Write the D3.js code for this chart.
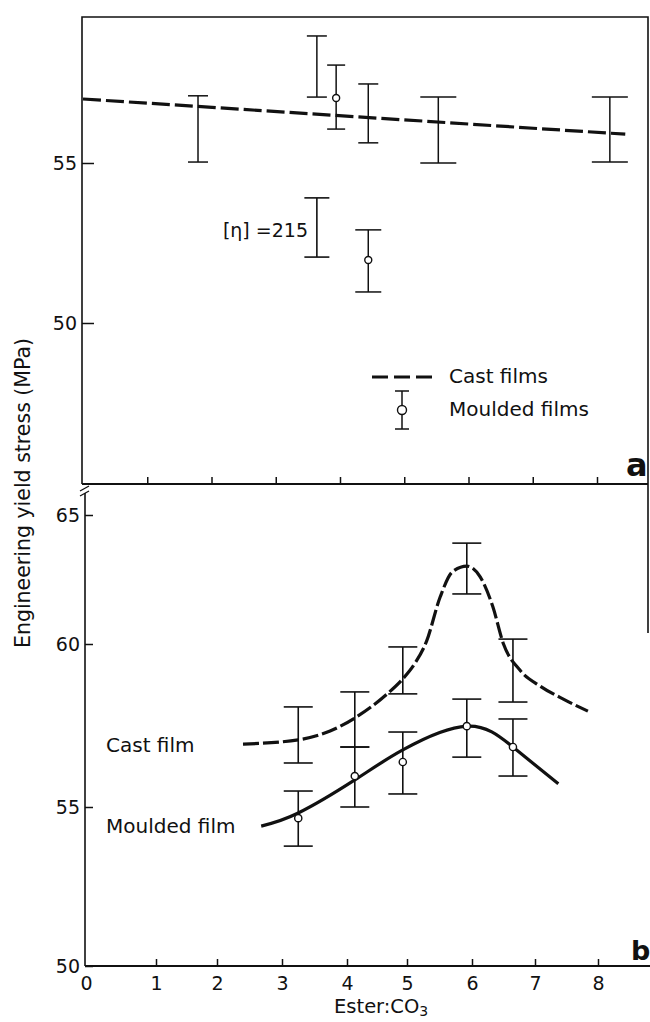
<!DOCTYPE html>
<html>
<head>
<meta charset="utf-8">
<script src="https://cdn.jsdelivr.net/npm/d3@7"></script>
<style>
  html, body { margin: 0; padding: 0; background: #fff; }
  svg { display: block; }
  text { font-family: "DejaVu Sans", sans-serif; fill: #111; }
</style>
</head>
<body>
<svg id="chart" width="650" height="1022"></svg>
<script>
// ---------------- DATA ----------------
// Panel a
const xTicksA = [1, 2, 3, 4, 5, 6, 7, 8];
const yTicksA = [50, 55];
const castLineA_x = [0, 8.44];
const castLineA_y = [57.0, 55.9];
const castBarA_x  = [1.79, 3.64, 4.44, 5.53, 8.20];
const castBarA_lo = [55.03, 57.06, 55.63, 55.0, 55.03];
const castBarA_hi = [57.10, 58.97, 57.47, 57.06, 57.06];
const etaBar_x  = [3.64];
const etaBar_lo = [52.06];
const etaBar_hi = [53.91];
const etaLabel = "[η] =215";
const mouldA_x    = [3.94, 4.44];
const mouldA_mean = [57.03, 51.97];
const mouldA_lo   = [56.06, 50.97];
const mouldA_hi   = [58.06, 52.91];
const legendLabels = ["Cast films", "Moulded films"];

// Panel b
const xTicksB = [0, 1, 2, 3, 4, 5, 6, 7, 8];
const yTicksB = [50, 55, 60, 65];
const ratioB     = [3.25, 4.13, 4.93, 5.92, 6.65];
const castLoB    = [56.35, 56.84, 58.47, 61.94, 58.22];
const castHiB    = [58.07, 58.53, 59.91, 63.91, 60.19];
const mouldMeanB = [54.65, 55.95, 56.38, 57.48, 56.84];
const mouldLoB   = [53.77, 55.00, 55.40, 56.53, 55.95];
const mouldHiB   = [55.49, 56.84, 57.30, 58.31, 57.70];
const castCurveX = [2.40, 3.25, 3.74, 4.13, 4.67, 4.93, 5.12, 5.30, 5.51, 5.70, 5.92, 6.13, 6.33, 6.50, 6.76, 7.08, 7.48, 7.84];
const castCurveY = [56.93, 57.06, 57.33, 57.73, 58.47, 58.93, 59.40, 60.10, 61.82, 62.80, 63.02, 62.60, 61.45, 60.00, 59.20, 58.71, 58.28, 57.94];
const mouldCurveX = [2.68, 3.25, 4.13, 4.93, 5.92, 6.65, 7.37];
const mouldCurveY = [54.40, 54.81, 55.83, 56.75, 57.48, 56.84, 55.71];
const curveLabels = ["Cast film", "Moulded film"];

const yTitle = "Engineering yield stress (MPa)";

// ---------------- SCALES ----------------
const xA = d3.scaleLinear().domain([0, 8]).range([83, 597]);
const yA = d3.scaleLinear().domain([50, 55]).range([323, 163]);
const xB = d3.scaleLinear().domain(xTicksB).range([86, 156, 217, 282, 347, 407, 472, 535, 598]);
const yB = d3.scaleLinear().domain(yTicksB).range([966, 807, 644, 515]);

const svg = d3.select("#chart");
const ink = "#111";

// ---------------- PANEL A FRAME ----------------
const aLeft = 82, aTop = 17, aBottom = 484, right = 648;
svg.append("path")
  .attr("d", `M${aLeft},${aBottom}V${aTop}H${right}V633`)
  .attr("fill", "none").attr("stroke", ink).attr("stroke-width", 1.6);
svg.append("line").attr("x1", aLeft).attr("x2", right).attr("y1", aBottom).attr("y2", aBottom)
  .attr("stroke", ink).attr("stroke-width", 1.8);

const axA = svg.append("g").attr("transform", `translate(${aLeft},0)`)
  .call(d3.axisLeft(yA).tickValues(yTicksA).tickSize(-12).tickPadding(5).tickFormat(d3.format("d")));
const axAx = svg.append("g").attr("transform", `translate(0,${aBottom})`)
  .call(d3.axisBottom(xA).tickValues(xTicksA).tickSize(-7).tickFormat(""));

// ---------------- PANEL B AXES ----------------
const bLeft = 85, bBottom = 966;
svg.append("line").attr("x1", bLeft).attr("x2", bLeft).attr("y1", 493).attr("y2", bBottom)
  .attr("stroke", ink).attr("stroke-width", 1.6);
svg.append("line").attr("x1", bLeft).attr("x2", 650).attr("y1", bBottom).attr("y2", bBottom)
  .attr("stroke", ink).attr("stroke-width", 1.8);
// axis break marks
[0, 5].forEach(o => {
  svg.append("line").attr("x1", 80).attr("y1", 491 + o).attr("x2", 89).attr("y2", 486 + o)
    .attr("stroke", ink).attr("stroke-width", 1.3);
});

const axB = svg.append("g").attr("transform", `translate(${bLeft},0)`)
  .call(d3.axisLeft(yB).tickValues(yTicksB).tickSize(-8).tickPadding(5).tickFormat(d3.format("d")));
const axBx = svg.append("g").attr("transform", `translate(0,${bBottom})`)
  .call(d3.axisBottom(xB).tickValues(xTicksB).tickSize(-7).tickPadding(11).tickFormat(d3.format("d")));

[axA, axAx, axB, axBx].forEach(g => {
  g.select(".domain").remove();
  g.selectAll(".tick line").attr("stroke", ink).attr("stroke-width", 1.5);
  g.selectAll(".tick text").attr("font-size", 19).attr("font-family", "DejaVu Sans").attr("fill", ink);
});
axBx.selectAll(".tick").filter(d => d === 0).select("line").remove();

// ---------------- HELPERS ----------------
function errBar(g, x, lo, hi, cap, w) {
  g.append("line").attr("x1", x).attr("x2", x).attr("y1", lo).attr("y2", hi)
    .attr("stroke", ink).attr("stroke-width", w);
  [lo, hi].forEach(y => g.append("line").attr("x1", x - cap / 2).attr("x2", x + cap / 2)
    .attr("y1", y).attr("y2", y).attr("stroke", ink).attr("stroke-width", w));
}
function circ(g, x, y, r) {
  g.append("circle").attr("cx", x).attr("cy", y).attr("r", r)
    .attr("fill", "#fff").attr("stroke", ink).attr("stroke-width", 1.4);
}

// ---------------- PANEL A MARKS ----------------
const gA = svg.append("g");
const lineA = d3.line().x(d => xA(d[0])).y(d => yA(d[1]));
gA.append("path").datum(castLineA_x.map((x, i) => [x, castLineA_y[i]]))
  .attr("d", lineA).attr("fill", "none").attr("stroke", ink)
  .attr("stroke-width", 3.2).attr("stroke-dasharray", "18,5");

castBarA_x.forEach((x, i) => errBar(gA, xA(x), yA(castBarA_lo[i]), yA(castBarA_hi[i]), i >= 3 ? 36 : 20, 1.5));
etaBar_x.forEach((x, i) => errBar(gA, xA(x), yA(etaBar_lo[i]), yA(etaBar_hi[i]), 25, 1.6));
mouldA_x.forEach((x, i) => {
  errBar(gA, xA(x), yA(mouldA_lo[i]), yA(mouldA_hi[i]), i === 0 ? 18 : 26, 1.5);
  circ(gA, xA(x), yA(mouldA_mean[i]), 3.5);
});
gA.append("text").attr("x", 308).attr("y", 237).attr("text-anchor", "end")
  .attr("font-size", 19).text(etaLabel);

// legend
const gL = svg.append("g");
gL.append("line").attr("x1", 372).attr("x2", 432).attr("y1", 377).attr("y2", 377)
  .attr("stroke", ink).attr("stroke-width", 3).attr("stroke-dasharray", "16,6");
errBar(gL, 402, 391, 429, 14, 1.5);
circ(gL, 402, 410, 4.5);
gL.append("text").attr("x", 449).attr("y", 383).attr("font-size", 20).text(legendLabels[0]);
gL.append("text").attr("x", 449).attr("y", 416).attr("font-size", 20).text(legendLabels[1]);

svg.append("text").attr("x", 626).attr("y", 476).attr("font-family", "Liberation Sans")
  .attr("font-weight", "bold").attr("font-size", 32).text("a");

// ---------------- PANEL B MARKS ----------------
const gB = svg.append("g");
const castLine = d3.line().x(d => xB(d[0])).y(d => yB(d[1])).curve(d3.curveMonotoneX);
const mouldLine = d3.line().x(d => xB(d[0])).y(d => yB(d[1])).curve(d3.curveNatural);
gB.append("path").datum(castCurveX.map((x, i) => [x, castCurveY[i]]))
  .attr("d", castLine).attr("fill", "none").attr("stroke", ink)
  .attr("stroke-width", 3.2).attr("stroke-dasharray", "16,4");
gB.append("path").datum(mouldCurveX.map((x, i) => [x, mouldCurveY[i]]))
  .attr("d", mouldLine).attr("fill", "none").attr("stroke", ink).attr("stroke-width", 3.2);

ratioB.forEach((x, i) => {
  errBar(gB, xB(x), yB(castLoB[i]), yB(castHiB[i]), 29, 1.6);
  errBar(gB, xB(x), yB(mouldLoB[i]), yB(mouldHiB[i]), 29, 1.6);
  circ(gB, xB(x), yB(mouldMeanB[i]), 3.6);
});

gB.append("text").attr("x", 106).attr("y", 752).attr("font-size", 20).text(curveLabels[0]);
gB.append("text").attr("x", 106).attr("y", 833).attr("font-size", 20).text(curveLabels[1]);

svg.append("text").attr("x", 631).attr("y", 960).attr("font-family", "Liberation Sans")
  .attr("font-weight", "bold").attr("font-size", 27).text("b");

// ---------------- AXIS TITLES ----------------
svg.append("text").attr("transform", "translate(23,493) rotate(-90)")
  .attr("text-anchor", "middle").attr("dominant-baseline", "central")
  .attr("font-size", 20.5).text(yTitle);

const xt = svg.append("text").attr("x", 334).attr("y", 1013).attr("font-size", 19.5);
xt.append("tspan").text("Ester:CO");
xt.append("tspan").attr("font-size", 14).attr("dy", 3).text("3");
</script>
</body>
</html>
